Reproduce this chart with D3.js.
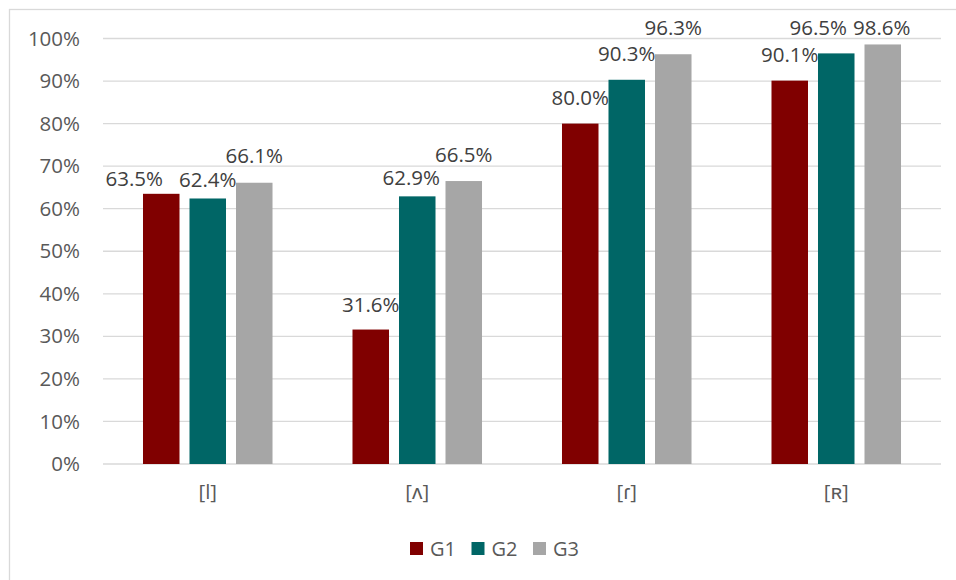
<!DOCTYPE html>
<html>
<head>
<meta charset="utf-8">
<script src="https://cdn.jsdelivr.net/npm/d3@7"></script>
<style>
  html, body { margin: 0; padding: 0; background: #fff; }
  svg { display: block; font-family: "Open Sans", "Noto Sans", sans-serif; }
</style>
</head>
<body>
<svg id="chart" width="956" height="580"></svg>
<script>
// Categories (phonetic segments) and series
const categories = ["[l]", "[ʌ]", "[ɾ]", "[ʀ]"];
const seriesNames = ["G1", "G2", "G3"];
const g1Values = [63.5, 31.6, 80.0, 90.1];
const g2Values = [62.4, 62.9, 90.3, 96.5];
const g3Values = [66.1, 66.5, 96.3, 98.6];
const yTicks = [0, 10, 20, 30, 40, 50, 60, 70, 80, 90, 100];

const seriesValues = [g1Values, g2Values, g3Values];
const colors = ["#800000", "#006666", "#a6a6a6"];

// Label nudges (px) to keep neighbouring value labels from overlapping
const labelNudge = [
  [[-27, 11], [0, 7.5], [0, -1]],
  [[0, 1], [-6, 8], [0, 0]],
  [[0, 0], [0, 0], [0, 0]],
  [[0, 0], [-18, 1], [-1, 10]]
];

const svg = d3.select("#chart");
const plot = { left: 103, right: 941, top: 38.5, bottom: 464 };

// Chart frame
svg.append("rect")
  .attr("x", 9.5).attr("y", 9.5)
  .attr("width", 980).attr("height", 600)
  .attr("fill", "none").attr("stroke", "#d9d9d9").attr("stroke-width", 1.3);

const y = d3.scaleLinear().domain([0, 100]).range([plot.bottom, plot.top]);
const x0 = d3.scaleBand().domain(categories).range([plot.left, plot.right]);
const x1 = d3.scaleBand().domain(seriesNames).range([0, x0.bandwidth()])
  .paddingInner(0.215).paddingOuter(0.86);

// Gridlines
svg.append("g").selectAll("line").data(yTicks).join("line")
  .attr("x1", plot.left).attr("x2", plot.right)
  .attr("y1", d => y(d)).attr("y2", d => y(d))
  .attr("stroke", "#d9d9d9").attr("stroke-width", 1.3);

// Y axis labels
const yAxis = d3.axisLeft(y).tickValues(yTicks).tickFormat(d => d + "%").tickSize(0).tickPadding(0);
const yg = svg.append("g").attr("transform", `translate(80,0)`).call(yAxis);
yg.select(".domain").remove();
yg.selectAll("text").attr("fill", "#595959").attr("font-size", 20.5)
  .attr("font-family", "Open Sans, Noto Sans, sans-serif");

// X axis labels
const xAxis = d3.axisBottom(x0).tickSize(0).tickPadding(0);
const xg = svg.append("g").attr("transform", `translate(0,${plot.bottom + 20})`).call(xAxis);
xg.select(".domain").remove();
xg.selectAll("text").attr("fill", "#595959").attr("font-size", 20.5)
  .attr("font-family", "Open Sans, Noto Sans, sans-serif");

// Bars and value labels
const rows = categories.map((c, i) => ({
  cat: c, idx: i,
  vals: seriesNames.map((s, j) => ({ s, j, v: seriesValues[j][i], nudge: labelNudge[i][j] }))
}));

const groups = svg.append("g").selectAll("g").data(rows).join("g")
  .attr("transform", d => `translate(${x0(d.cat)},0)`);

groups.selectAll("rect").data(d => d.vals).join("rect")
  .attr("x", d => x1(d.s))
  .attr("width", x1.bandwidth())
  .attr("y", d => y(d.v))
  .attr("height", d => y(0) - y(d.v))
  .attr("fill", d => colors[d.j]);

groups.selectAll("text").data(d => d.vals).join("text")
  .attr("x", d => x1(d.s) + x1.bandwidth() / 2 + d.nudge[0])
  .attr("y", d => y(d.v) - 19 + d.nudge[1])
  .attr("text-anchor", "middle")
  .attr("font-size", 20.5)
  .attr("fill", "#404040")
  .text(d => d.v.toFixed(1) + "%");

// Legend
const legend = svg.append("g").attr("transform", "translate(410,542)");
const items = legend.selectAll("g").data(seriesNames).join("g")
  .attr("transform", (d, i) => `translate(${i * 61.5},0)`);
items.append("rect").attr("width", 13).attr("height", 13)
  .attr("fill", (d, i) => colors[i]);
items.append("text").attr("x", 20).attr("y", 13.5)
  .attr("font-size", 20).attr("fill", "#595959").text(d => d);
</script>
</body>
</html>
